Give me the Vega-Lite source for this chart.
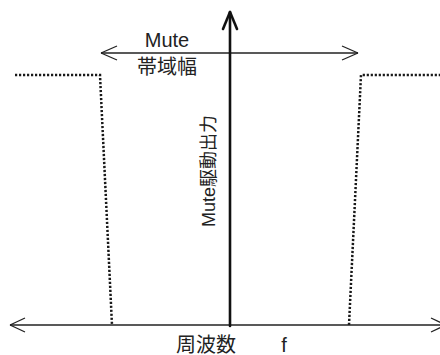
{
  "$schema": "https://vega.github.io/schema/vega-lite/v6.json",
  "width": 440,
  "height": 355,
  "autosize": {"type": "none"},
  "padding": 0,
  "background": "white",
  "config": {"view": {"stroke": null}},
  "datasets": {
    "thin": [
      {"x1": 10, "y1": 325, "x2": 446, "y2": 325},
      {"x1": 10, "y1": 325, "x2": 25, "y2": 318},
      {"x1": 10, "y1": 325, "x2": 25, "y2": 332},
      {"x1": 446, "y1": 325, "x2": 431, "y2": 318},
      {"x1": 446, "y1": 325, "x2": 431, "y2": 332},
      {"x1": 101, "y1": 53, "x2": 358, "y2": 53},
      {"x1": 101, "y1": 53, "x2": 117, "y2": 46},
      {"x1": 101, "y1": 53, "x2": 117, "y2": 60},
      {"x1": 358, "y1": 53, "x2": 342, "y2": 46},
      {"x1": 358, "y1": 53, "x2": 342, "y2": 60}
    ],
    "thick": [
      {"x1": 230, "y1": 326, "x2": 230, "y2": 13},
      {"x1": 230, "y1": 12, "x2": 223, "y2": 29},
      {"x1": 230, "y1": 12, "x2": 237, "y2": 29}
    ],
    "dotted": [
      {"side": "left", "order": 1, "x": 15, "y": 75},
      {"side": "left", "order": 2, "x": 100, "y": 75},
      {"side": "left", "order": 3, "x": 112, "y": 325},
      {"side": "right", "order": 1, "x": 349, "y": 325},
      {"side": "right", "order": 2, "x": 361, "y": 75},
      {"side": "right", "order": 3, "x": 440, "y": 75}
    ],
    "labels": [
      {"text": "Mute", "x": 167, "y": 41},
      {"text": "帯域幅", "x": 167, "y": 68},
      {"text": "周波数", "x": 206, "y": 346},
      {"text": "f", "x": 284, "y": 346}
    ],
    "vlabel": [
      {"text": "Mute駆動出力", "x": 210, "y": 171}
    ]
  },
  "layer": [
    {
      "data": {"name": "dotted"},
      "mark": {"type": "line", "color": "#1a1a1a", "strokeWidth": 2.5, "strokeDash": [2.2, 1.8], "strokeCap": "butt"},
      "encoding": {
        "x": {"field": "x", "type": "quantitative", "scale": {"domain": [0, 440], "nice": false, "zero": false}, "axis": null},
        "y": {"field": "y", "type": "quantitative", "scale": {"domain": [355, 0], "nice": false, "zero": false}, "axis": null},
        "detail": {"field": "side"},
        "order": {"field": "order"}
      }
    },
    {
      "data": {"name": "thin"},
      "mark": {"type": "rule", "color": "#222222", "strokeWidth": 1.3},
      "encoding": {
        "x": {"field": "x1", "type": "quantitative"},
        "y": {"field": "y1", "type": "quantitative"},
        "x2": {"field": "x2"},
        "y2": {"field": "y2"}
      }
    },
    {
      "data": {"name": "thick"},
      "mark": {"type": "rule", "color": "#111111", "strokeWidth": 2.6, "strokeCap": "round"},
      "encoding": {
        "x": {"field": "x1", "type": "quantitative"},
        "y": {"field": "y1", "type": "quantitative"},
        "x2": {"field": "x2"},
        "y2": {"field": "y2"}
      }
    },
    {
      "data": {"name": "labels"},
      "mark": {"type": "text", "font": "Liberation Sans, Noto Sans CJK JP", "fontSize": 20, "color": "#222222", "align": "center", "baseline": "middle"},
      "encoding": {
        "x": {"field": "x", "type": "quantitative"},
        "y": {"field": "y", "type": "quantitative"},
        "text": {"field": "text"}
      }
    },
    {
      "data": {"name": "vlabel"},
      "mark": {"type": "text", "font": "Liberation Sans, Noto Sans CJK JP", "fontSize": 18, "color": "#222222", "align": "center", "baseline": "middle", "angle": 270},
      "encoding": {
        "x": {"field": "x", "type": "quantitative"},
        "y": {"field": "y", "type": "quantitative"},
        "text": {"field": "text"}
      }
    }
  ]
}
